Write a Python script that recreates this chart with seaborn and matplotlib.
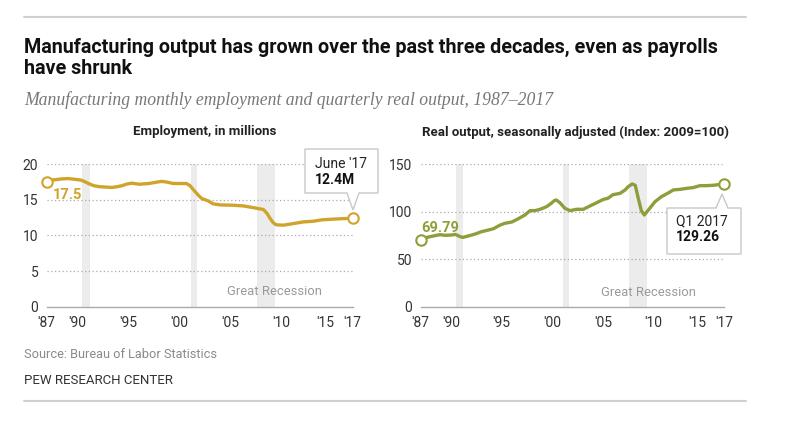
import matplotlib
matplotlib.use("Agg")
import matplotlib.pyplot as plt
from matplotlib.lines import Line2D
from matplotlib.patches import Polygon
from matplotlib import font_manager
from matplotlib.transforms import ScaledTranslation
import seaborn as sns

# Employment, monthly (millions)
emp_year = [1987.0, 1987.6, 1988.5, 1989.1, 1989.7, 1990.3, 1990.6, 1991.1, 1991.6,
            1992.2, 1992.8, 1993.4, 1993.9, 1994.4, 1994.8, 1995.3, 1996.1, 1997.0,
            1997.8, 1998.3, 1998.8, 1999.4, 2000.0, 2000.7, 2001.05, 2001.4, 2001.9,
            2002.2, 2002.85, 2003.3, 2004.0, 2005.3, 2006.3, 2007.3, 2008.25, 2008.6,
            2008.9, 2009.2, 2009.5, 2010.2, 2011.1, 2012.1, 2013.1, 2014.0, 2015.1,
            2016.1, 2017.0]
emp_value = [17.5, 17.8, 17.95, 18.0, 17.9, 17.8, 17.65, 17.3, 17.0,
             16.85, 16.8, 16.75, 16.85, 17.0, 17.2, 17.35, 17.2, 17.3,
             17.5, 17.6, 17.5, 17.3, 17.3, 17.3, 17.0, 16.4, 15.6,
             15.2, 14.85, 14.45, 14.3, 14.25, 14.15, 13.9, 13.65, 13.1,
             12.4, 11.8, 11.5, 11.45, 11.65, 11.9, 12.0, 12.2, 12.3,
             12.37, 12.4]

# Real output, quarterly (Index: 2009=100)
out_year = [1987.0, 1987.6, 1988.25, 1988.9, 1989.4, 1990.06, 1990.4, 1990.9, 1991.15,
            1991.7, 1992.4, 1993.0, 1993.7, 1994.2, 1994.85, 1995.3, 1996.0, 1996.6,
            1997.3, 1997.8, 1998.3, 1998.8, 1999.45, 1999.9, 2000.2, 2000.4, 2000.75,
            2001.25, 2001.75, 2002.4, 2003.07, 2003.7, 2004.4, 2005.04, 2005.5, 2006.0,
            2006.7, 2007.2, 2007.5, 2007.9, 2008.2, 2008.5, 2008.8, 2009.1, 2009.5,
            2010.15, 2010.8, 2011.5, 2011.96, 2012.6, 2013.3, 2013.9, 2014.6, 2015.25,
            2015.9, 2017.0]
out_value = [69.79, 73.0, 74.5, 75.9, 75.2, 75.5, 76.2, 73.8, 73.0,
             74.5, 76.6, 79.0, 80.8, 82.2, 86.0, 87.8, 89.2, 92.4,
             96.6, 101.2, 101.2, 102.6, 105.4, 108.9, 111.7, 112.4, 109.6,
             103.6, 101.2, 102.6, 102.6, 106.0, 109.6, 113.0, 114.2, 118.0,
             119.4, 123.0, 126.4, 129.3, 127.9, 114.2, 101.2, 96.6, 101.9,
             110.6, 116.0, 120.0, 123.0, 123.6, 124.7, 125.4, 127.5, 127.5,
             127.9, 129.26]

recessions = [(1990.5, 1991.2), (2001.1, 2001.7), (2007.6, 2009.4)]
tick_years = [1987, 1990, 1995, 2000, 2005, 2010, 2015, 2017]
tick_labels = ["'87", "'90", "'95", "'00", "'05", "'10", "'15", "'17"]

GOLD = "#d0a42c"
GREEN = "#8c9f3a"

sns.set_style("white")
installed = {f.name for f in font_manager.fontManager.ttflist}
title_font = [f for f in ["Liberation Sans Narrow", "Roboto", "DejaVu Sans"] if f in installed]
body_font = [f for f in ["Roboto", "DejaVu Sans"] if f in installed]
plt.rcParams["font.family"] = body_font

W, H = 790, 424
fig = plt.figure(figsize=(7.9, 4.24), dpi=100)


def fx(px):
    return px / W


def fy(py):
    return 1 - py / H


# header
fig.add_artist(Line2D([fx(24), fx(746)], [fy(17), fy(17)], color="#cfcfcf", lw=1.5))
fig.text(fx(24), fy(47), "Manufacturing output has grown over the past three decades, even as payrolls",
         family=title_font, weight="bold", fontsize=14.25, va="center", color="#111111")
fig.text(fx(24), fy(68), "have shrunk", family=title_font, weight="bold", fontsize=14.25,
         va="center", color="#111111")
fig.text(fx(24), fy(100), "Manufacturing monthly employment and quarterly real output, 1987\u20132017",
         family=["Liberation Serif", "DejaVu Serif"], style="italic", fontsize=12.7,
         va="center", color="#777777")

# footer
fig.text(fx(24), fy(355), "Source: Bureau of Labor Statistics", fontsize=9.2, color="#8a8a8a", va="center")
fig.text(fx(24), fy(380), "PEW RESEARCH CENTER", fontsize=9.5, color="#333333", va="center")
fig.add_artist(Line2D([fx(24), fx(746)], [fy(401), fy(401)], color="#cfcfcf", lw=1.5))


def setup(ax, ymax, yticks, title, title_x):
    ax.set_xlim(1987, 2017)
    ax.set_ylim(0, ymax)
    for lo, hi in recessions:
        ax.axvspan(lo, hi, color="#ececec", lw=0, zorder=0)
    for t in yticks[1:]:
        ax.axhline(t, color="#aaaaaa", lw=0.9, ls=(0, (1, 2)), zorder=1)
    for s in ["top", "right", "left"]:
        ax.spines[s].set_visible(False)
    ax.spines["bottom"].set_color("#aaaaaa")
    ax.spines["bottom"].set_linewidth(1)
    ax.set_xticks(range(1987, 2018), minor=True)
    ax.set_xticks(tick_years)
    ax.set_xticklabels(tick_labels)
    ax.tick_params(axis="x", which="both", length=3, color="#aaaaaa", labelsize=10,
                   labelcolor="#333333", pad=4, direction="out")
    # '15 sits a little to the left so it does not crowd '17
    lab15 = ax.get_xticklabels()[6]
    lab15.set_transform(lab15.get_transform() + ScaledTranslation(-0.07, 0, fig.dpi_scale_trans))
    ax.set_yticks(yticks)
    ax.tick_params(axis="y", length=0, labelsize=10, labelcolor="#333333", pad=6)
    ax.set_xlabel("")
    ax.set_ylabel("")
    fig.text(title_x, fy(132), title, ha="center", va="center", fontsize=9.5,
             weight="bold", color="#222222")


def callout(outline, x, y1, y2, line1, line2):
    # speech-bubble box with pointer, outline given in pixels
    fig.add_artist(Polygon([(fx(a), fy(b)) for a, b in outline], closed=True,
                           transform=fig.transFigure, fc="white", ec="#c8c8c8",
                           lw=1, zorder=6))
    fig.text(fx(x), fy(y1), line1, fontsize=10, color="#222222", va="center", zorder=7)
    fig.text(fx(x), fy(y2), line2, fontsize=10, weight="bold", color="#111111",
             va="center", zorder=7)


# Employment panel
ax1 = fig.add_axes([fx(46.7), fy(306.7), fx(306), 142.4 / H])
setup(ax1, 20, [0, 5, 10, 15, 20], "Employment, in millions", fx(205))
sns.lineplot(x=emp_year, y=emp_value, ax=ax1, color=GOLD, lw=2.4, zorder=3)
ax1.plot([emp_year[0], emp_year[-1]], [emp_value[0], emp_value[-1]], ls="none", marker="o",
         ms=7.5, mfc="white", mec=GOLD, mew=1.5, zorder=5, clip_on=False)
ax1.text(1987.6, 15.7, "17.5", color=GOLD, weight="bold", fontsize=10.5, va="center")
ax1.text(2009.3, 2.2, "Great Recession", color="#9a9a9a", fontsize=9.4, ha="center", va="center")
callout([(305, 149), (378, 149), (378, 193), (359, 193), (353, 210), (347, 193), (305, 193)],
        315, 164, 180, "June '17", "12.4M")

# Output panel
ax2 = fig.add_axes([fx(420.7), fy(306.7), fx(303.6), 142.4 / H])
setup(ax2, 150, [0, 50, 100, 150], "Real output, seasonally adjusted (Index: 2009=100)", fx(575))
sns.lineplot(x=out_year, y=out_value, ax=ax2, color=GREEN, lw=2.4, zorder=3)
ax2.plot([out_year[0], out_year[-1]], [out_value[0], out_value[-1]], ls="none", marker="o",
         ms=7.5, mfc="white", mec=GREEN, mew=1.5, zorder=5, clip_on=False)
ax2.text(1987.1, 83, "69.79", color=GREEN, weight="bold", fontsize=10.5, va="center")
ax2.text(2009.55, 14.7, "Great Recession", color="#9a9a9a", fontsize=9.4, ha="center", va="center")
callout([(667, 208), (716, 208), (722, 194), (728, 208), (741, 208), (741, 254), (667, 254)],
        676, 221, 237, "Q1 2017", "129.26")

fig.savefig("out.png", dpi=100)
